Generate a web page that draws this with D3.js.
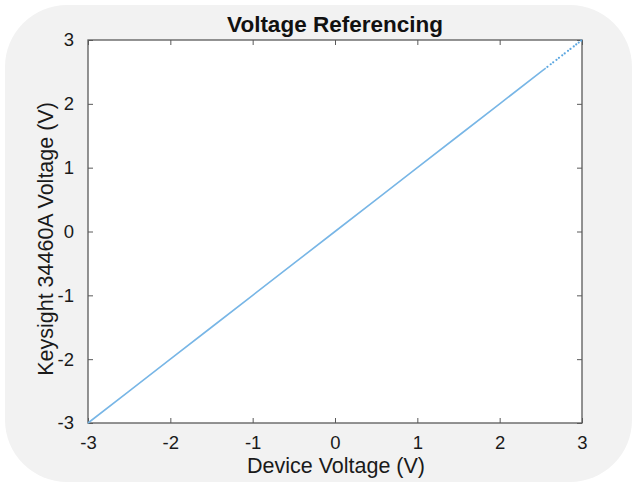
<!DOCTYPE html>
<html><head><meta charset="utf-8">
<script src="https://cdn.jsdelivr.net/npm/d3@7"></script>
<style>body{margin:0;background:#fff}svg{display:block}</style>
</head><body>
<svg id="c" width="635" height="486"></svg>
<script>
const title = "Voltage Referencing";
const xLabel = "Device Voltage (V)";
const yLabel = "Keysight 34460A Voltage (V)";
const xTicks = [-3, -2, -1, 0, 1, 2, 3];
const yTicks = [-3, -2, -1, 0, 1, 2, 3];
// continuous part of the sweep
const deviceV   = [-3.0, -2.5, -2.0, -1.5, -1.0, -0.5, 0.0, 0.5, 1.0, 1.5, 2.0, 2.5, 2.56];
const keysightV = [-3.0, -2.5, -2.0, -1.5, -1.0, -0.5, 0.0, 0.5, 1.0, 1.5, 2.0, 2.5, 2.56];
// sparse samples near the top of the range
const sparseDevice   = [2.58, 2.62, 2.65, 2.69, 2.72, 2.76, 2.79, 2.83, 2.86, 2.9, 2.93, 2.96, 2.99];
const sparseKeysight = [2.58, 2.62, 2.65, 2.69, 2.72, 2.76, 2.79, 2.83, 2.86, 2.9, 2.93, 2.96, 2.99];

const svg = d3.select("#c");
const font = "'Liberation Sans', Arial, Helvetica, sans-serif";
svg.append("rect").attr("x",5).attr("y",5).attr("width",627).attr("height",477)
  .attr("rx",62).attr("ry",62).attr("fill","#f2f2f2");

const L=88, R=582, T=40, B=423;
const x = d3.scaleLinear().domain([-3,3]).range([L,R]);
const y = d3.scaleLinear().domain([-3,3]).range([B,T]);

svg.append("rect").attr("x",L).attr("y",T).attr("width",R-L).attr("height",B-T).attr("fill","#fff");

const axisColor = "#5a5a5a";
const fmt = d => String(d);
function styleAxis(g){
  g.select(".domain").remove();
  g.selectAll(".tick line").attr("stroke",axisColor).attr("stroke-width",1);
  g.selectAll(".tick text").attr("fill","#1a1a1a").attr("font-family",font).attr("font-size",18.5);
}
svg.append("g").attr("transform",`translate(0,${B})`)
  .call(d3.axisBottom(x).tickValues(xTicks).tickFormat(fmt).tickSizeInner(-5).tickSizeOuter(0).tickPadding(13))
  .call(styleAxis);
svg.append("g").attr("transform",`translate(0,${T})`)
  .call(d3.axisTop(x).tickValues(xTicks).tickFormat("").tickSizeInner(-5).tickSizeOuter(0))
  .call(styleAxis);
svg.append("g").attr("transform",`translate(${L},0)`)
  .call(d3.axisLeft(y).tickValues(yTicks).tickFormat(fmt).tickSizeInner(-5).tickSizeOuter(0).tickPadding(14))
  .call(styleAxis);
svg.append("g").attr("transform",`translate(${R},0)`)
  .call(d3.axisRight(y).tickValues(yTicks).tickFormat("").tickSizeInner(-5).tickSizeOuter(0))
  .call(styleAxis);

svg.append("rect").attr("x",L).attr("y",T).attr("width",R-L).attr("height",B-T)
  .attr("fill","none").attr("stroke",axisColor).attr("stroke-width",1.3);

const pts = deviceV.map((d,i)=>[d,keysightV[i]]);
svg.append("path").datum(pts)
  .attr("d", d3.line().x(d=>x(d[0])).y(d=>y(d[1])))
  .attr("fill","none").attr("stroke","#78b6e6").attr("stroke-width",1.6);

svg.append("g").selectAll("circle").data(sparseDevice.map((d,i)=>[d,sparseKeysight[i]]))
  .join("circle").attr("cx",d=>x(d[0])).attr("cy",d=>y(d[1])).attr("r",1.1).attr("fill","#5aa6e0");

svg.append("text").attr("x",335).attr("y",32).attr("text-anchor","middle")
  .attr("font-family",font).attr("font-weight","bold").attr("font-size",22.5).attr("fill","#111").text(title);
svg.append("text").attr("x",336).attr("y",473).attr("text-anchor","middle")
  .attr("font-family",font).attr("font-size",21.5).attr("fill","#1a1a1a").text(xLabel);
svg.append("text").attr("transform",`translate(53,${239}) rotate(-90)`).attr("text-anchor","middle")
  .attr("font-family",font).attr("font-size",21.5).attr("fill","#1a1a1a").text(yLabel);
</script>
</body></html>
